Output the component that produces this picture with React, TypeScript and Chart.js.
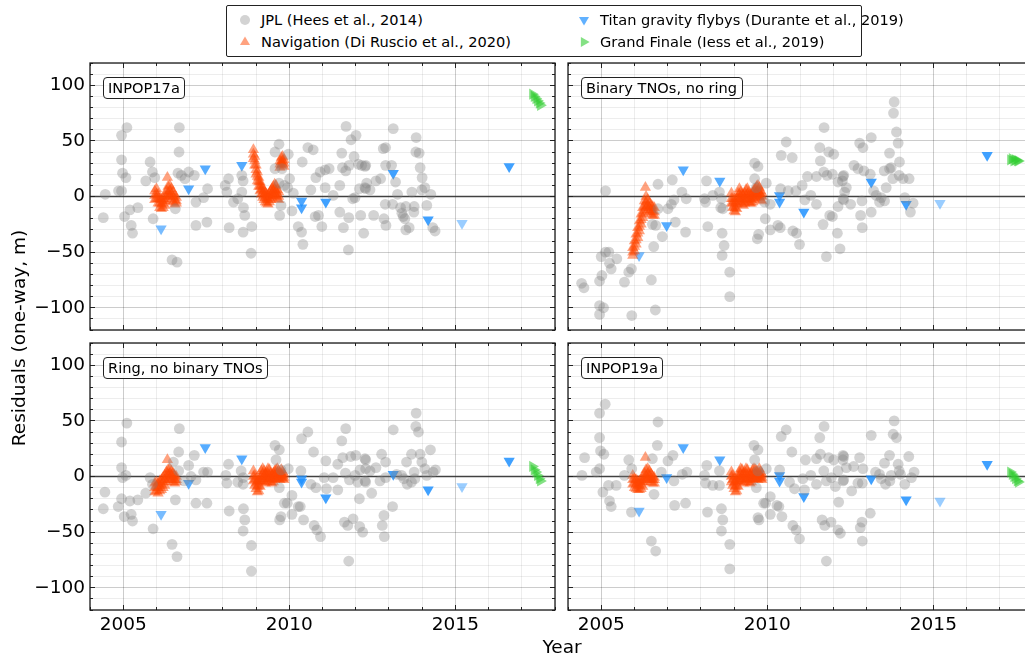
import React, { useEffect, useRef } from 'react';
import { Chart, registerables } from 'chart.js';
Chart.register(...registerables);

const FONT = "'DejaVu Sans', 'Liberation Sans', sans-serif";

// ---------------- DATA ----------------
const xTickLabels = [2005, 2010, 2015];
const yTickLabels = [-100, -50, 0, 50, 100];

const panelTitles = ['INPOP17a', 'Binary TNOs, no ring', 'Ring, no binary TNOs', 'INPOP19a'];

const jplTL: number[][] = [
  [2004.46,2],[2004.40,-19],[2004.95,55],[2005.11,62],[2004.95,33],[2004.98,21],[2005.08,17],[2004.86,5],[2004.95,5],[2005.04,-18],
  [2005.20,-12],[2005.44,-10],[2005.24,-26],[2005.28,-33],[2005.81,31],[2005.88,22],[2005.95,17],[2005.68,14],[2005.90,-20],[2006.57,-11],
  [2006.69,62],[2006.68,40],[2006.65,21],[2006.75,19],[2006.86,16],[2006.97,22],[2007.14,19],[2006.47,-57],[2006.62,-59],[2007.19,-5],
  [2007.42,-1],[2007.54,7],[2007.19,-26],[2007.52,-23],[2008.07,10],[2008.17,16],[2008.12,4],[2008.32,-5],[2008.45,-2],[2008.57,19],
  [2008.61,14],[2008.57,4],[2008.62,-10],[2008.66,-17],[2008.19,-28],[2008.61,-32],[2008.85,-51],[2008.87,-27],[2009.57,40],[2009.69,47],
  [2009.97,38],[2009.78,25],[2009.57,25],[2009.69,12],[2009.85,10],[2009.95,8],[2010.01,16],[2010.12,3],[2009.75,-8],[2009.71,-17],
  [2010.08,-13],[2010.27,-27],[2010.37,-32],[2010.41,-43],[2010.39,31],[2010.56,44],[2010.72,42],[2010.65,6],[2010.80,17],[2010.93,22],
  [2011.08,24],[2011.08,8],[2010.78,-18],[2010.88,-17],[2010.98,-27],
  [2011.71,63],[2012.01,55],[2011.86,51],[2013.13,61],[2013.82,53],[2011.58,39],[2011.95,36],[2012.83,43],[2012.90,44],[2013.81,40],
  [2013.91,39],[2013.94,26],[2014.00,17],[2011.20,25],[2011.60,26],[2011.70,23],[2011.80,28],[2012.08,29],[2012.18,28],[2012.28,27],
  [2012.30,28],[2012.90,28],[2013.08,28],[2011.52,10],[2011.32,1],[2012.11,7],[2012.28,8],[2012.30,7],[2012.33,12],[2012.43,6],
  [2012.61,14],[2012.75,16],[2013.20,13],[2013.26,2],[2013.69,4],[2013.99,6],[2014.08,8],[2014.26,2],[2011.91,-2],[2011.98,-1],
  [2011.52,-14],[2011.79,-19],[2012.15,-17],[2012.54,-17],[2011.63,-28],[2012.24,-33],[2012.89,-7],[2013.11,-7],[2013.35,-10],[2013.51,-9],
  [2013.76,-9],[2014.14,-8],[2013.39,-15],[2013.43,-18],[2013.48,-20],[2013.61,-28],[2013.51,-30],[2013.75,-14],[2012.85,-20],[2012.91,-26],
  [2014.32,-28],[2014.39,-31],[2011.78,-48]
];

const jplTR: number[][] = [
  [2005.13,5],[2004.41,-78],[2004.48,-82],[2004.95,-98],[2005.07,-100],[2004.95,-106],[2004.95,-76],[2005.02,-71],[2005.00,-54],[2005.13,-50],
  [2005.23,-50],[2005.25,-60],[2005.30,-65],[2005.47,-56],[2005.70,-77],[2005.83,-68],[2005.91,-65],[2005.92,-107],[2006.51,-75],[2006.63,-102],
  [2006.58,-45],[2006.71,11],[2006.71,-11],[2006.54,-25],[2006.64,-26],[2006.84,-36],[2007.01,-11],[2007.11,-7],[2007.19,-3],[2007.14,15],
  [2007.23,-23],[2007.43,4],[2007.56,-2],[2007.54,-32],[2008.17,14],[2008.11,-2],[2008.14,-5],[2008.21,-27],[2008.36,1],[2008.56,4],
  [2008.62,-2],[2008.66,-11],[2008.60,-10],[2008.64,-33],[2008.70,-44],[2008.64,-53],[2008.87,-68],[2008.87,-90],[2009.62,30],[2009.72,27],
  [2009.62,16],[2009.67,8],[2009.97,12],[2009.92,-5],[2009.94,-20],[2009.74,-34],[2009.70,-38],[2010.09,-7],[2010.09,-30],[2010.32,-26],
  [2010.39,-28],[2010.40,7],[2010.57,49],[2010.42,37],[2010.75,35],[2010.77,-31],[2010.88,-33],[2010.97,-43],[2010.63,5],[2010.86,5],
  [2011.05,10],
  [2013.82,85],[2013.80,75],[2011.71,62],[2013.13,53],[2013.89,58],[2013.94,48],[2012.78,48],[2012.88,44],[2011.58,44],[2011.85,40],
  [2012.00,38],[2013.68,39],[2011.60,32],[2013.98,31],[2011.70,22],[2011.80,19],[2011.96,20],[2011.48,18],[2011.21,18],[2012.28,18],
  [2012.30,19],[2012.26,14],[2012.13,13],[2012.61,28],[2012.73,25],[2012.91,23],[2013.10,20],[2013.52,23],[2013.73,26],[2013.68,25],
  [2013.78,16],[2013.97,19],[2014.09,16],[2014.27,16],[2011.31,1],[2011.13,-3],[2011.48,-7],[2012.38,8],[2012.33,4],[2012.28,-2],
  [2012.30,-3],[2012.51,-7],[2012.13,-9],[2012.85,-4],[2013.20,5],[2013.28,1],[2013.43,-1],[2013.38,-5],[2013.53,-4],[2013.58,8],
  [2014.14,-1],[2014.39,-6],[2014.31,-14],[2013.13,-14],[2011.88,-17],[2011.96,-18],[2011.68,-25],[2012.81,-17],[2012.86,-28],[2012.11,-33],
  [2012.19,-47],[2011.78,-54]
];

const jplBL: number[][] = [
  [2005.11,48],[2004.95,31],[2004.95,8],[2004.98,-1],[2005.08,1],[2004.45,-14],[2004.40,-29],[2004.85,-27],[2004.95,-20],[2005.03,-36],
  [2005.20,-22],[2005.44,-21],[2005.24,-34],[2005.28,-40],[2005.81,-1],[2005.88,-7],[2005.68,-15],[2005.90,-47],[2006.47,-61],[2006.62,-72],
  [2006.69,43],[2006.67,22],[2006.51,13],[2006.67,5],[2006.57,-21],[2006.97,10],[2007.14,19],[2007.04,0],[2007.19,-3],[2006.84,-4],
  [2007.42,4],[2007.54,4],[2007.19,-24],[2007.52,-24],[2008.17,11],[2008.09,1],[2008.12,-6],[2008.19,-31],[2008.45,-5],[2008.55,5],
  [2008.61,-1],[2008.61,-7],[2008.62,-29],[2008.66,-39],[2008.61,-49],[2008.86,-62],[2008.86,-85],[2009.57,28],[2009.70,24],[2009.60,15],
  [2009.97,7],[2009.75,6],[2009.70,-10],[2009.85,-24],[2009.94,-24],[2009.75,-36],[2009.71,-39],[2010.08,-17],[2010.08,-34],[2010.27,-27],
  [2010.33,-27],[2010.43,-39],[2010.37,34],[2010.56,40],[2010.73,22],[2010.35,5],[2010.65,-7],[2010.80,-10],[2011.05,-1],[2011.10,14],
  [2010.75,-44],[2010.83,-48],[2010.94,-54],
  [2013.82,57],[2013.81,45],[2013.89,40],[2013.13,42],[2011.70,43],[2011.58,32],[2011.46,11],[2011.61,17],[2011.85,18],[2012.00,19],
  [2012.28,16],[2012.30,15],[2012.30,7],[2012.43,5],[2012.61,8],[2012.78,20],[2012.90,13],[2012.13,6],[2011.69,3],[2011.81,-3],
  [2011.98,1],[2011.32,-1],[2011.12,-11],[2011.46,-12],[2012.28,-4],[2012.30,-5],[2012.06,-5],[2012.73,-4],[2012.90,-1],[2012.48,-15],
  [2012.11,-20],[2013.68,20],[2013.53,13],[2013.94,20],[2013.99,13],[2014.25,24],[2014.08,7],[2014.40,6],[2014.33,4],[2013.76,4],
  [2013.38,1],[2013.45,-2],[2013.55,-7],[2013.68,-5],[2013.78,-2],[2014.14,1],[2013.23,2],[2013.11,-27],[2012.85,-35],[2012.80,-44],
  [2012.86,-54],[2011.66,-41],[2011.76,-44],[2011.92,-38],[2012.12,-45],[2012.21,-50],[2011.79,-76]
];

const jplBR: number[][] = [
  [2005.12,65],[2004.95,57],[2004.95,35],[2004.98,23],[2005.08,20],[2004.50,17],[2004.42,1],[2004.85,4],[2004.95,7],[2005.05,-14],
  [2005.22,-8],[2005.45,-8],[2005.25,-22],[2005.30,-27],[2005.83,15],[2005.92,7],[2005.70,1],[2005.91,-32],[2006.51,-58],[2006.64,-67],
  [2006.71,49],[2006.69,28],[2006.54,16],[2006.81,4],[2006.59,-16],[2007.01,14],[2007.16,19],[2007.19,-4],[2007.44,2],[2007.58,4],
  [2007.21,-26],[2007.54,-24],[2008.18,10],[2008.11,1],[2008.14,-6],[2008.20,-32],[2008.36,-8],[2008.56,5],[2008.56,-8],[2008.62,-29],
  [2008.66,-39],[2008.62,-49],[2008.87,-61],[2008.87,-83],[2009.60,28],[2009.72,24],[2009.62,15],[2009.97,7],[2009.72,5],[2009.67,-10],
  [2009.89,-24],[2009.95,-24],[2009.72,-37],[2009.75,-39],[2010.09,-18],[2010.09,-34],[2010.29,-26],[2010.35,-27],[2010.44,-36],[2010.42,36],
  [2010.57,42],[2010.74,22],[2010.37,6],[2010.67,-5],[2010.82,-11],[2011.07,-2],[2011.15,15],[2010.77,-44],[2010.87,-48],[2010.97,-56],
  [2013.82,50],[2013.79,38],[2013.89,35],[2013.13,37],[2011.71,45],[2011.58,35],[2011.48,16],[2011.60,20],[2011.85,17],[2012.00,15],
  [2012.28,19],[2012.30,18],[2012.28,15],[2012.38,8],[2012.60,9],[2012.78,17],[2012.88,7],[2012.13,5],[2011.70,5],[2011.78,-4],
  [2011.93,-1],[2011.31,1],[2011.12,-12],[2011.48,-7],[2012.28,-4],[2012.30,-3],[2012.05,-9],[2012.73,-6],[2012.86,-6],[2012.54,-13],
  [2012.15,-23],[2013.68,19],[2013.53,12],[2013.94,11],[2013.97,5],[2014.26,18],[2014.01,2],[2014.42,4],[2014.34,-1],[2013.73,1],
  [2013.38,2],[2013.43,-2],[2013.56,-7],[2013.69,-4],[2014.14,-7],[2013.26,4],[2013.10,-33],[2012.85,-41],[2012.80,-46],[2012.86,-58],
  [2011.65,-39],[2011.73,-44],[2011.92,-41],[2012.13,-48],[2012.20,-51],[2011.78,-76]
];

// Navigation (Di Ruscio et al., 2020): epochs (three residual samples per epoch, plus one isolated point)
const navTimes = [
  2005.95,2005.95,2005.95, 2006.00,2006.00,2006.00, 2006.05,2006.05,2006.05, 2006.10,2006.10,2006.10,
  2006.15,2006.15,2006.15, 2006.20,2006.20,2006.20, 2006.25,2006.25,2006.25, 2006.30,2006.30,2006.30,
  2006.35,2006.35,2006.35, 2006.40,2006.40,2006.40, 2006.45,2006.45,2006.45, 2006.50,2006.50,2006.50,
  2006.55,2006.55,2006.55, 2006.60,2006.60,2006.60,
  2006.33,
  2008.92,2008.92,2008.92, 2008.96,2008.96,2008.96, 2009.00,2009.00,2009.00, 2009.04,2009.04,2009.04,
  2009.08,2009.08,2009.08, 2009.12,2009.12,2009.12, 2009.16,2009.16,2009.16, 2009.20,2009.20,2009.20,
  2009.24,2009.24,2009.24, 2009.28,2009.28,2009.28, 2009.32,2009.32,2009.32, 2009.36,2009.36,2009.36,
  2009.40,2009.40,2009.40, 2009.44,2009.44,2009.44, 2009.48,2009.48,2009.48, 2009.52,2009.52,2009.52,
  2009.56,2009.56,2009.56, 2009.60,2009.60,2009.60, 2009.64,2009.64,2009.64, 2009.68,2009.68,2009.68,
  2009.72,2009.72,2009.72, 2009.76,2009.76,2009.76, 2009.80,2009.80,2009.80, 2009.84,2009.84,2009.84
];
const navTL = [
  5,1,-3, 7,2,-2, 2,-2,-6, -2,-6,-10, -3,-7,-11, -2,-6,-10, 1,-4,-8, 5,0,-4, 9,4,0, 10,5,1, 7,2,-2, 4,0,-5, 1,-3,-7, -1,-4,-6,
  17,
  42,38,34, 36,32,28, 28,24,20, 22,18,14, 17,13,9, 13,9,5, 10,6,2, 7,3,-1, 5,1,-3, 3,-1,-5, 2,-2,-6, 1,-3,-7,
  3,-1,-5, 5,1,-3, 7,3,-1, 9,5,1, 11,6,2, 10,5,1, 6,2,-2, 4,0,-3, 32,29,26, 35,31,28, 36,32,29, 33,30,27
];
const navTR = [
  -46,-50,-53, -40,-45,-49, -34,-39,-43, -28,-33,-37, -22,-27,-31, -16,-21,-25, -10,-15,-19, -4,-9,-13, 0,-5,-9, -3,-8,-12,
  -6,-10,-14, -8,-12,-16, -9,-13,-17, -10,-14,-17,
  8,
  3,-2,-6, -2,-6,-10, -4,-9,-13, -5,-10,-14, -2,-7,-11, 3,-2,-6, 7,2,-2, 4,0,-5, 2,-3,-7, 1,-4,-8, 3,-2,-6, 6,1,-3,
  7,2,-2, 4,0,-5, 2,-2,-6, 1,-3,-6, 3,-1,-5, 6,2,-2, 7,3,-1, 9,4,0, 10,5,1, 8,3,-1, 5,1,-3, 3,0,-4
];
const navBL = [
  -6,-10,-14, -5,-9,-13, -6,-10,-15, -4,-8,-13, -3,-7,-12, -1,-5,-10, 1,-3,-8, 4,0,-5, 6,2,-3, 7,2,-2, 5,1,-3, 3,-1,-5,
  1,-3,-6, 0,-3,-5,
  15,
  5,0,-4, 1,-3,-8, -2,-6,-11, -5,-9,-14, -4,-8,-13, 0,-4,-9, 5,0,-4, 7,2,-2, 5,0,-4, 2,-2,-6, 4,0,-5, 7,2,-2,
  6,1,-3, 3,-1,-5, 1,-2,-6, 3,-1,-5, 5,1,-3, 6,2,-2, 7,3,-1, 5,1,-2, 3,0,-3, 6,2,-1, 4,1,-2, 2,-1,-3
];
const navBR = [
  1,-3,-7, -2,-6,-10, -3,-7,-11, -4,-8,-12, -4,-8,-12, -3,-7,-11, -1,-5,-9, 3,-1,-5, 6,1,-3, 7,2,-2, 5,1,-3, 2,-2,-5,
  0,-3,-6, -1,-3,-6,
  17,
  4,0,-5, 1,-3,-8, -2,-6,-11, -5,-9,-14, -4,-8,-13, 0,-4,-9, 4,0,-4, 7,2,-2, 6,1,-3, 2,-2,-6, 4,0,-5, 7,2,-2,
  6,1,-3, 3,-1,-5, 1,-2,-6, 3,-1,-5, 6,1,-3, 7,2,-2, 6,2,-2, 5,1,-2, 3,0,-3, 7,3,-1, 4,1,-2, 2,-1,-3
];

// Titan gravity flybys (Durante et al., 2019)
const titanTimes = [2006.14, 2006.97, 2007.47, 2008.57, 2010.37, 2010.37, 2011.10, 2013.13, 2014.18, 2015.20, 2016.62];
const titanOpacity = [0.6, 0.75, 0.75, 0.75, 0.8, 0.8, 0.85, 0.85, 0.85, 0.45, 0.85];
const titanTL = [-29, 7, 25, 28, -4, -10, -5, 21, -21, -24, 27];
const titanTR = [-53, -26, 24, 14, 1, -5, -14, 13, -7, -6, 37];
const titanBL = [-34, -6, 26, 16, -2, -5, -19, 2, -12, -9, 14];
const titanBR = [-31, -1, 26, 15, 1, -4, -18, -2, -21, -22, 11];

// Grand Finale (Iess et al., 2019)
const gfTimes = [2017.32, 2017.37, 2017.42, 2017.47, 2017.52, 2017.56];
const gfTL = [92, 90, 88, 86, 84, 82];
const gfTR = [33, 34, 32, 33, 32, 32];
const gfBL = [9, 6, 4, 1, -2, -4];
const gfBR = [4, 2, 0, -2, -4, -5];

// ---------------- STYLE ----------------
const GRAY = 'rgba(128,128,128,0.35)';
const ORANGE = 'rgba(255,69,0,0.5)';
const GREEN = 'rgba(50,205,50,0.6)';
const blue = (a: number) => `rgba(30,144,255,${a})`;
const MAJOR_GRID = 'rgba(0,0,0,0.2)';
const MINOR_GRID = 'rgba(0,0,0,0.07)';
const TRI_R = 6.5;

const PLOT_W = 465;
const PLOT_H = 267;

type PanelDef = {
  title: string;
  jpl: number[][];
  nav: number[];
  titan: number[];
  gf: number[];
  L: number;
  T: number;
  showX: boolean;
  showY: boolean;
};

const panels: PanelDef[] = [
  { title: panelTitles[0], jpl: jplTL, nav: navTL, titan: titanTL, gf: gfTL, L: 90, T: 63, showX: false, showY: true },
  { title: panelTitles[1], jpl: jplTR, nav: navTR, titan: titanTR, gf: gfTR, L: 568, T: 63, showX: false, showY: false },
  { title: panelTitles[2], jpl: jplBL, nav: navBL, titan: titanBL, gf: gfBL, L: 90, T: 343, showX: true, showY: true },
  { title: panelTitles[3], jpl: jplBR, nav: navBR, titan: titanBR, gf: gfBR, L: 568, T: 343, showX: true, showY: false },
];

const align = (p: number) => Math.round(p - 0.5) + 0.5;

const framePlugin = {
  id: 'frameTicks',
  beforeDatasetsDraw(chart: any) {
    const { ctx, chartArea: a, scales } = chart;
    const y0 = align(scales.y.getPixelForValue(0));
    ctx.save();
    ctx.strokeStyle = 'rgba(50,50,50,0.9)';
    ctx.lineWidth = 1.3;
    ctx.beginPath();
    ctx.moveTo(a.left, y0);
    ctx.lineTo(a.right, y0);
    ctx.stroke();
    ctx.restore();
  },
  afterDraw(chart: any) {
    const { ctx, chartArea: a, scales } = chart;
    ctx.save();
    ctx.strokeStyle = '#222';
    ctx.lineWidth = 1;
    ctx.beginPath();
    for (const t of scales.x.ticks) {
      const px = align(scales.x.getPixelForValue(t.value));
      const len = Math.round(t.value) % 5 === 0 ? 5 : 3;
      ctx.moveTo(px, a.bottom); ctx.lineTo(px, a.bottom - len);
      ctx.moveTo(px, a.top); ctx.lineTo(px, a.top + len);
    }
    for (const t of scales.y.ticks) {
      const py = align(scales.y.getPixelForValue(t.value));
      const len = Math.round(t.value) % 50 === 0 ? 5 : 3;
      ctx.moveTo(a.left, py); ctx.lineTo(a.left + len, py);
      ctx.moveTo(a.right, py); ctx.lineTo(a.right - len, py);
    }
    ctx.stroke();
    ctx.lineWidth = 1.3;
    ctx.strokeStyle = '#1a1a1a';
    ctx.strokeRect(a.left, a.top, a.right - a.left, a.bottom - a.top);
    ctx.restore();
  },
};

function Panel({ p }: { p: PanelDef }) {
  const ref = useRef<HTMLCanvasElement>(null);
  const yW = p.showY ? 80 : 10;
  const padT = 20;
  const padR = 10;
  const xH = p.showX ? 44 : 20;
  const cw = yW + PLOT_W + padR;
  const ch = padT + PLOT_H + xH;

  useEffect(() => {
    if (!ref.current) return;
    const chart = new Chart(ref.current, {
      type: 'scatter',
      data: {
        datasets: [
          {
            label: 'JPL (Hees et al., 2014)',
            data: p.jpl.map(([x, y]) => ({ x, y })),
            pointStyle: 'circle',
            pointRadius: 5.4,
            pointBackgroundColor: GRAY,
            pointBorderWidth: 0,
            pointBorderColor: 'rgba(0,0,0,0)',
          },
          {
            label: 'Navigation (Di Ruscio et al., 2020)',
            data: navTimes.map((x, i) => ({ x, y: p.nav[i] })),
            pointStyle: 'triangle',
            pointRadius: TRI_R,
            pointBackgroundColor: ORANGE,
            pointBorderWidth: 0,
            pointBorderColor: 'rgba(0,0,0,0)',
          },
          {
            label: 'Titan gravity flybys (Durante et al., 2019)',
            data: titanTimes.map((x, i) => ({ x, y: p.titan[i] })),
            pointStyle: 'triangle',
            pointRotation: 180,
            pointRadius: TRI_R,
            pointBackgroundColor: titanOpacity.map((a) => blue(a)),
            pointBorderWidth: 0,
            pointBorderColor: 'rgba(0,0,0,0)',
          },
          {
            label: 'Grand Finale (Iess et al., 2019)',
            data: gfTimes.map((x, i) => ({ x, y: p.gf[i] })),
            pointStyle: 'triangle',
            pointRotation: 90,
            pointRadius: TRI_R,
            pointBackgroundColor: GREEN,
            pointBorderWidth: 0,
            pointBorderColor: 'rgba(0,0,0,0)',
          },
        ],
      } as any,
      options: {
        responsive: false,
        animation: false,
        devicePixelRatio: 1,
        events: [],
        layout: { padding: { top: padT, right: padR, left: 0, bottom: 0 } },
        plugins: { legend: { display: false }, tooltip: { enabled: false } },
        scales: {
          x: {
            type: 'linear',
            min: 2004,
            max: 2018,
            afterFit: (s: any) => { s.height = xH; },
            ticks: {
              stepSize: 1,
              autoSkip: false,
              maxRotation: 0,
              display: p.showX,
              padding: 4,
              color: '#000',
              font: { family: FONT, size: 18.5 },
              callback: (v: any) => (xTickLabels.includes(Math.round(Number(v))) ? String(Math.round(Number(v))) : ''),
            },
            grid: {
              drawTicks: false,
              lineWidth: 1,
              color: (c: any) => (c.tick && Math.round(c.tick.value) % 5 === 0 ? MAJOR_GRID : MINOR_GRID),
            },
            border: { display: false },
          },
          y: {
            type: 'linear',
            min: -120,
            max: 120,
            afterFit: (s: any) => { s.width = yW; },
            ticks: {
              stepSize: 10,
              autoSkip: false,
              display: p.showY,
              padding: 5,
              color: '#000',
              font: { family: FONT, size: 18.5 },
              callback: (v: any) => {
                const n = Math.round(Number(v));
                if (!yTickLabels.includes(n)) return '';
                return n < 0 ? '\u2212' + Math.abs(n) : String(n);
              },
            },
            grid: {
              drawTicks: false,
              lineWidth: 1,
              color: (c: any) => (c.tick && Math.round(c.tick.value) % 50 === 0 ? MAJOR_GRID : MINOR_GRID),
            },
            border: { display: false },
          },
        },
      } as any,
      plugins: [framePlugin],
    });
    return () => chart.destroy();
  }, []);

  return (
    <>
      <canvas
        ref={ref}
        width={cw}
        height={ch}
        style={{ position: 'absolute', left: p.L - yW, top: p.T - padT, width: cw, height: ch, display: 'block' }}
      />
      <div
        style={{
          position: 'absolute',
          left: p.L + 12.5,
          top: p.T + 14,
          height: 20,
          lineHeight: '20px',
          padding: '0 4.5px',
          border: '1px solid #222',
          borderRadius: 4,
          background: 'rgba(255,255,255,0.85)',
          fontFamily: FONT,
          fontSize: 14.6,
          color: '#000',
          whiteSpace: 'nowrap',
        }}
      >
        {p.title}
      </div>
    </>
  );
}

function Marker({ kind, color }: { kind: string; color: string }) {
  const s = 12;
  let shape: any = null;
  if (kind === 'circle') shape = <circle cx={6} cy={6} r={5} fill={color} />;
  if (kind === 'up') shape = <polygon points="6,0.4 11,9.1 1,9.1" fill={color} />;
  if (kind === 'down') shape = <polygon points="1,2.9 11,2.9 6,11.6" fill={color} />;
  if (kind === 'right') shape = <polygon points="2.9,1 2.9,11 11.6,6" fill={color} />;
  return (
    <svg width={s} height={s} style={{ position: 'absolute', left: -6, top: -6 }}>
      {shape}
    </svg>
  );
}

const legendItems = [
  { text: 'JPL (Hees et al., 2014)', kind: 'circle', color: GRAY, x: 245, y: 20 },
  { text: 'Navigation (Di Ruscio et al., 2020)', kind: 'up', color: ORANGE, x: 245, y: 42 },
  { text: 'Titan gravity flybys (Durante et al., 2019)', kind: 'down', color: blue(0.7), x: 584, y: 20 },
  { text: 'Grand Finale (Iess et al., 2019)', kind: 'right', color: GREEN, x: 584, y: 42 },
];

export default function App() {
  return (
    <div
      style={{
        position: 'fixed',
        left: 0,
        top: 0,
        width: 1025,
        height: 660,
        overflow: 'hidden',
        background: '#fff',
        fontFamily: FONT,
      }}
    >
      {panels.map((p, i) => (
        <Panel key={i} p={p} />
      ))}

      <div
        style={{
          position: 'absolute',
          left: 226,
          top: 5,
          width: 634,
          height: 50,
          border: '1px solid #222',
          borderRadius: 2,
          background: '#fff',
        }}
      />
      {legendItems.map((it, i) => (
        <React.Fragment key={i}>
          <div style={{ position: 'absolute', left: it.x, top: it.y, width: 0, height: 0 }}>
            <Marker kind={it.kind} color={it.color} />
          </div>
          <div
            style={{
              position: 'absolute',
              left: it.x + 16,
              top: it.y - 10,
              height: 20,
              lineHeight: '20px',
              fontSize: 14.6,
              color: '#000',
              whiteSpace: 'nowrap',
            }}
          >
            {it.text}
          </div>
        </React.Fragment>
      ))}

      <div
        style={{
          position: 'absolute',
          left: 462,
          top: 636,
          width: 200,
          height: 22,
          lineHeight: '22px',
          textAlign: 'center',
          fontSize: 18.5,
          color: '#000',
        }}
      >
        Year
      </div>
      <div
        style={{
          position: 'absolute',
          left: 19 - 150,
          top: 338 - 11,
          width: 300,
          height: 22,
          lineHeight: '22px',
          textAlign: 'center',
          fontSize: 18.5,
          color: '#000',
          transform: 'rotate(-90deg)',
          whiteSpace: 'nowrap',
        }}
      >
        Residuals (one-way, m)
      </div>
    </div>
  );
}
